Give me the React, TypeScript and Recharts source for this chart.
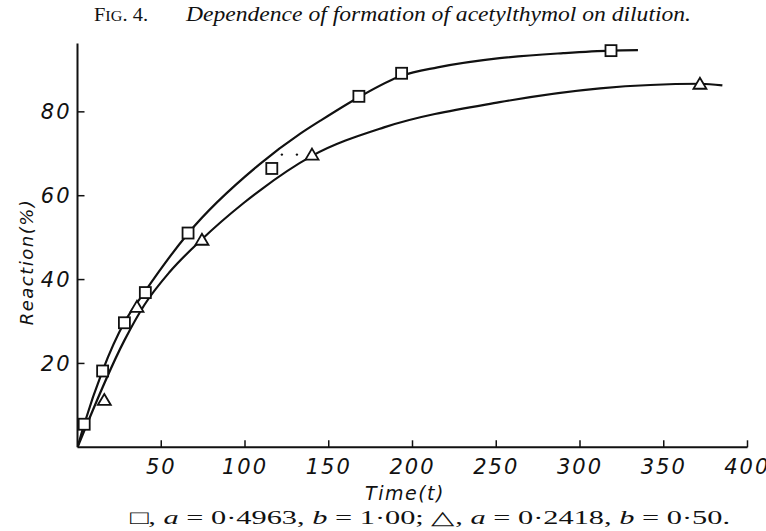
import React from "react";
import { ComposedChart, Line, Scatter, XAxis, YAxis } from "recharts";

// ---- data ----
const squareTimes = [4, 15, 28, 40.5, 66, 116, 168, 193.5, 318.5];
const squareReactions = [5.5, 18.2, 29.7, 36.9, 51.1, 66.5, 83.7, 89.2, 94.6];

const triangleTimes = [16, 35.5, 74.3, 140, 371.6];
const triangleReactions = [11.3, 33.5, 49.5, 69.8, 86.7];

const upperCurveTimes = [0, 4, 15, 28, 40, 66, 109, 133, 145, 168, 193.5, 215, 252, 290, 318.5, 334.6];
const upperCurveReactions = [0, 5.5, 18.3, 29.8, 37, 51, 67.6, 74.8, 77.9, 83.5, 88.6, 90.6, 92.8, 94.0, 94.6, 94.7];

const lowerCurveTimes = [0, 28, 40, 55, 74, 99, 109, 140, 183, 252, 312, 372, 385];
const lowerCurveReactions = [0, 25.5, 34, 41.8, 49.5, 58.2, 61.3, 69.5, 76.3, 82.3, 85.6, 86.7, 86.3];

const dotTimes = [122, 131];
const dotReactions = [69.8, 69.8];

const xTicks = [50, 100, 150, 200, 250, 300, 350, 400];
const yTicks = [20, 40, 60, 80];

const zip = (t: number[], r: number[]) => t.map((v, i) => ({ t: v, r: r[i] }));
const squares = zip(squareTimes, squareReactions);
const triangles = zip(triangleTimes, triangleReactions);
const upperCurve = zip(upperCurveTimes, upperCurveReactions);
const lowerCurve = zip(lowerCurveTimes, lowerCurveReactions);
const dots = zip(dotTimes, dotReactions);

const tickFont = {
  fontFamily: "'DejaVu Sans', sans-serif",
  fontStyle: "italic" as const,
  fontSize: 21,
  fill: "#111",
  letterSpacing: 2,
};

const SquareShape = (p: any) => (
  <rect x={p.cx - 5.5} y={p.cy - 5.5} width={11} height={11} fill="#fff" stroke="#111" strokeWidth={1.8} />
);
const TriangleShape = (p: any) => (
  <path
    d={`M${p.cx},${p.cy - 6} L${p.cx + 6.5},${p.cy + 5} L${p.cx - 6.5},${p.cy + 5} Z`}
    fill="#fff"
    stroke="#111"
    strokeWidth={1.8}
  />
);
const DotShape = (p: any) => <circle cx={p.cx} cy={p.cy} r={1.2} fill="#111" />;

export default function App() {
  return (
    <div style={{ position: "absolute", left: 0, top: 0, width: 766, height: 531, background: "#fff" }}>
      <ComposedChart
        width={766}
        height={531}
        margin={{ top: 43.5, right: 18.5, bottom: 53.7, left: 17.5 }}
      >
        <XAxis
          type="number"
          dataKey="t"
          domain={[0, 400]}
          ticks={xTicks}
          allowDataOverflow
          height={30}
          axisLine={{ stroke: "#111", strokeWidth: 2 }}
          tickLine={{ stroke: "#111", strokeWidth: 1.5 }}
          tickSize={-7}
          tickMargin={19}
          tick={tickFont}
        />
        <YAxis
          type="number"
          dataKey="r"
          domain={[0, 96.3]}
          ticks={yTicks}
          allowDataOverflow
          width={60}
          axisLine={{ stroke: "#111", strokeWidth: 2 }}
          tickLine={{ stroke: "#111", strokeWidth: 1.5 }}
          tickSize={-7}
          tickMargin={13}
          tick={tickFont}
        />
        <Line
          data={upperCurve}
          dataKey="r"
          type="monotone"
          stroke="#111"
          strokeWidth={2.2}
          dot={false}
          activeDot={false}
          isAnimationActive={false}
        />
        <Line
          data={lowerCurve}
          dataKey="r"
          type="monotone"
          stroke="#111"
          strokeWidth={2.2}
          dot={false}
          activeDot={false}
          isAnimationActive={false}
        />
        <Scatter data={dots} dataKey="r" shape={DotShape} isAnimationActive={false} />
        <Scatter data={squares} dataKey="r" shape={SquareShape} isAnimationActive={false} />
        <Scatter data={triangles} dataKey="r" shape={TriangleShape} isAnimationActive={false} />
      </ComposedChart>
      <svg
        width={766}
        height={531}
        style={{ position: "absolute", left: 0, top: 0, pointerEvents: "none" }}
      >
        <text x={94} y={21} fontFamily="'Liberation Serif', serif" fontSize={19} fill="#111" textLength={54} lengthAdjust="spacingAndGlyphs">
          F<tspan fontSize={15}>IG</tspan>. 4.
        </text>
        <text
          x={186}
          y={21}
          fontFamily="'Liberation Serif', serif"
          fontStyle="italic"
          fontSize={20}
          fill="#111"
          textLength={505}
          lengthAdjust="spacingAndGlyphs"
        >
          Dependence of formation of acetylthymol on dilution.
        </text>
        <text
          x={405}
          y={500}
          textAnchor="middle"
          fontFamily="'DejaVu Sans', sans-serif"
          fontStyle="italic"
          fontSize={19}
          letterSpacing={1.5}
          fill="#111"
        >
          Time(t)
        </text>
        <text
          transform="translate(33,262) rotate(-90)"
          textAnchor="middle"
          fontFamily="'DejaVu Sans', sans-serif"
          fontStyle="italic"
          fontSize={18}
          letterSpacing={1.5}
          fill="#111"
        >
          Reaction(%)
        </text>
        <text
          x={130}
          y={524}
          fontFamily="'Liberation Serif', serif"
          fontSize={19}
          fill="#111"
          textLength={600}
          lengthAdjust="spacingAndGlyphs"
        >
          □, <tspan fontStyle="italic">a</tspan> = 0·4963, <tspan fontStyle="italic">b</tspan> = 1·00;{"  "}△,{" "}
          <tspan fontStyle="italic">a</tspan> = 0·2418, <tspan fontStyle="italic">b</tspan> = 0·50.
        </text>
      </svg>
    </div>
  );
}
